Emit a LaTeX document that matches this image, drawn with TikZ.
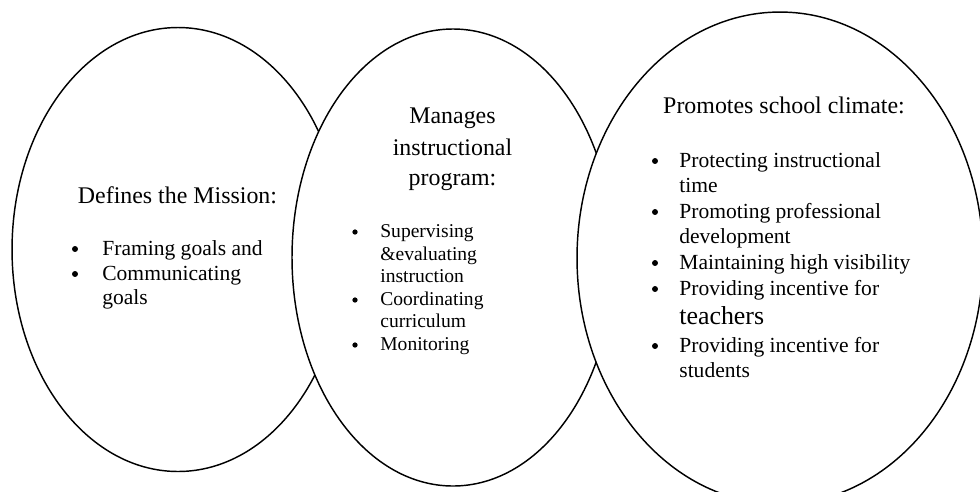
\documentclass[tikz,border=0pt]{standalone}
\usepackage{fontspec}
\setmainfont{Liberation Serif}
\usetikzlibrary{shapes,positioning}

\begin{document}
\begin{tikzpicture}[x = 0.5525pt, y = -0.5525pt]
\tikzstyle{oval}=[draw, ellipse, fill = white, line width = 0.8pt, inner sep = 0 pt]
\tikzstyle{head}=[inner sep = 0 pt, anchor = base, font = \fontsize{13.2}{16}\selectfont]
\tikzstyle{itm}=[inner sep = 0 pt, anchor = base west, font = \fontsize{11.9}{14}\selectfont]
\tikzstyle{sml}=[itm, font = \fontsize{10.8}{13}\selectfont]
\tikzstyle{dot}=[circle, fill, inner sep = 0 pt, minimum size = 3.3pt]
\tikzstyle{sdot}=[dot, minimum size = 2.9pt]

\useasboundingbox (0,0) rectangle (980,491);

\node[oval, minimum width = 183.4pt, minimum height = 245.3pt] (mission) at (178,249.5) {};
\node[oval, minimum width = 177.9pt, minimum height = 252.5pt] (program) at (453,257.5) {};
\node[oval, minimum width = 224.3pt, minimum height = 271.8pt] (climate) at (780,258) {};

% left oval
\node[head] (m0) at (177.5,203) {Defines the Mission:};
\node[dot] (mb1) at (75,249) {};
\node[itm] (m1) at (102,255) {Framing goals and};
\node[dot] (mb2) at (75,274) {};
\node[itm] (m2) at (102,280) {Communicating};
\node[itm] (m3) at (102,304) {goals};

% middle oval
\node[head] (p0) at (452.5,123) {Manages};
\node[head] (p00) at (452.5,155) {instructional};
\node[head] (p000) at (452.5,185) {program:};
\node[sdot] (pb1) at (355,232) {};
\node[sml] (p1) at (380,237) {Supervising};
\node[sml] (p2) at (380,260) {\&evaluating};
\node[sml] (p3) at (380,282) {instruction};
\node[sdot] (pb2) at (355,300) {};
\node[sml] (p4) at (380,305) {Coordinating};
\node[sml] (p5) at (380,327) {curriculum};
\node[sdot] (pb3) at (355,345) {};
\node[sml] (p6) at (380,350) {Monitoring};

% right oval
\node[head] (c0) at (784,113) {Promotes school climate:};
\node[dot] (cb1) at (655,161) {};
\node[itm] (c1) at (679,167) {Protecting instructional};
\node[itm] (c2) at (679,192) {time};
\node[dot] (cb2) at (655,212) {};
\node[itm] (c3) at (679,218) {Promoting professional};
\node[itm] (c4) at (679,243) {development};
\node[dot] (cb3) at (655,263) {};
\node[itm] (c5) at (679,269) {Maintaining high visibility};
\node[dot] (cb4) at (655,289) {};
\node[itm] (c6) at (679,295) {Providing incentive for};
\node[itm, font = \fontsize{14.3}{17}\selectfont] (c7) at (679,324) {teachers};
\node[dot] (cb5) at (655,346) {};
\node[itm] (c8) at (679,352) {Providing incentive for};
\node[itm] (c9) at (679,377) {students};
\end{tikzpicture}
\end{document}
